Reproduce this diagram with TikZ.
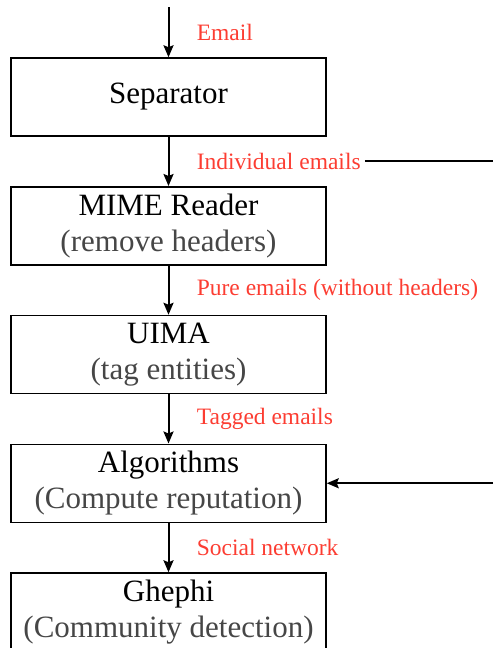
\documentclass[tikz,border=0pt]{standalone}
\usepackage{fontspec}
\setmainfont{Liberation Serif}
\usetikzlibrary{positioning,arrows.meta}
\definecolor{labelred}{RGB}{252,61,50}
\definecolor{subgray}{RGB}{70,70,70}
\tikzstyle{block} = [draw, line width=1.5pt, rectangle, align=center,
    minimum width=315pt, minimum height=78pt, inner sep=2pt,
    font=\fontsize{31}{36}\selectfont]
\tikzstyle{flow} = [line width=2pt, -{Stealth[length=12pt,width=10pt,inset=2pt]}]
\tikzstyle{lbl} = [text=labelred, font=\fontsize{23.5}{28}\selectfont]
\tikzstyle{input} = [coordinate]
\newcommand{\subline}[1]{{\color{subgray}#1}}

\begin{document}
\begin{tikzpicture}[node distance=49.25pt]
    \useasboundingbox (0,0) rectangle (493pt,-648pt);
    % % % % % % % % % % % % % % % % % % % % % % %
    % Processing chain
    % % % % % % % % % % % % % % % % % % % % % % %
    % Separator
    \node [block] (sep) at (168.5pt,-97pt) {Separator};
    \coordinate (start) at ([yshift=50pt]sep.north);
    
    % MIME reader
    \node [block, below=of sep] (mime) {MIME Reader\\\subline{(remove headers)}};
    
    % UIMA tagging
    \node [block, below=of mime] (uima) {UIMA\\\subline{(tag entities)}};
    
    % Algorithms
    \node [block, below=of uima] (algo) {Algorithms\\\subline{(Compute reputation)}};
    
    % Ghephi
    \node [block, below=of algo] (ghephi) {Ghephi\\\subline{(Community detection)}};
    
    % right rim of the picture
    \node [input] (rim) at (493pt,0) {};
    
    % Once the nodes are placed, connecting them is easy.
    \draw [flow] (start) -- node [lbl, right=24pt] {Email} (sep);
    \draw [flow] (sep) -- node [lbl, right=24pt] (indiv) {Individual emails} (mime);
    \draw [flow] (mime) -- node [lbl, right=24pt] {Pure emails (without headers)} (uima);
    \draw [flow] (uima) -- node [lbl, right=24pt] {Tagged emails} (algo);
    \draw [flow] (algo) -- node [lbl, right=24pt] {Social network} (ghephi);
    
    % side branch
    \draw [line width=2pt] (indiv.east) -- (indiv.east -| rim);
    \draw [flow] (algo.east -| rim) -- (algo.east);
    
\end{tikzpicture}
\end{document}
